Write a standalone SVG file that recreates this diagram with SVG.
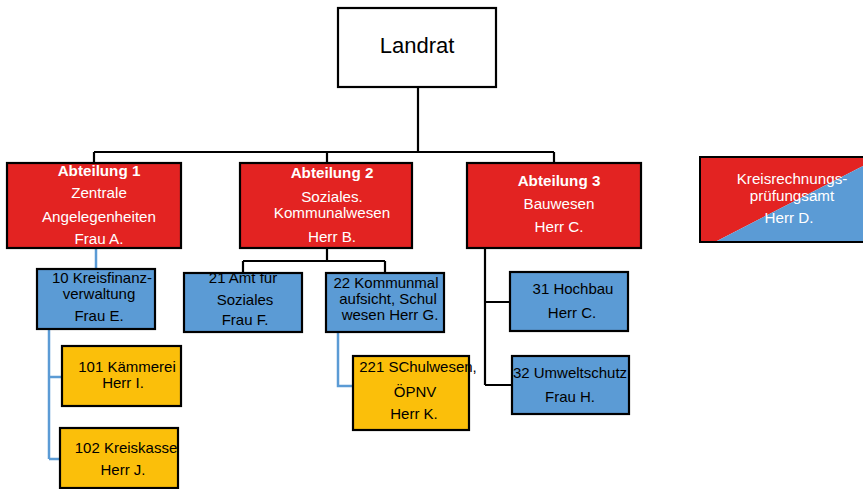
<svg xmlns="http://www.w3.org/2000/svg" width="863" height="489" viewBox="0 0 863 489">
<style>
text{font-family:"Liberation Sans",Arial,sans-serif;text-anchor:middle}
.box{stroke:#000;stroke-width:2.2}
.red{fill:#E32322}
.blue{fill:#5B9BD5}
.yel{fill:#FBBF0A}
.w{fill:#fff;font-size:15.2px}
.b{fill:#000;font-size:15px}
.bold{font-weight:bold}
.ck{fill:none;stroke:#000;stroke-width:2.2}
.cb{fill:none;stroke:#5B9BD5;stroke-width:2.5}
</style>
<g id="connectors">
<path class="ck" d="M418,87V152M94,152H554M94,152V163M327,152V163M554,152V163"/>
<path class="ck" d="M327,248V261M243,261H385M243,261V273M385,261V273"/>
<path class="ck" d="M485,248V385M485,302H510M485,385H512"/>
<path class="cb" d="M96,248V269M49,329V459M49,377H62M49,459H60M338,332V386H353"/>
</g>
<g id="landrat">
<rect x="338" y="8" width="158" height="79" fill="#fff" class="box"/>
<text x="417" y="53" style="font-size:22px">Landrat</text>
</g>
<g id="abt1">
<rect x="7" y="163" width="174" height="85" class="box red"/>
<text x="99" y="176" class="w bold">Abteilung 1</text>
<text x="99" y="198" class="w">Zentrale</text>
<text x="99" y="222" class="w">Angelegenheiten</text>
<text x="99" y="244" class="w">Frau A.</text>
</g>
<g id="abt2">
<rect x="240" y="163" width="172" height="85" class="box red"/>
<text x="332" y="178" class="w bold">Abteilung 2</text>
<text x="332" y="202" class="w">Soziales.</text>
<text x="332" y="218" class="w">Kommunalwesen</text>
<text x="332" y="242" class="w">Herr B.</text>
</g>
<g id="abt3">
<rect x="467" y="163" width="174" height="85" class="box red"/>
<text x="559" y="186" class="w bold">Abteilung 3</text>
<text x="559" y="209" class="w">Bauwesen</text>
<text x="559" y="232" class="w">Herr C.</text>
</g>
<g id="krpa">
<polygon points="700,157 863,157 863,166 715,242 700,242" fill="#E32322"/>
<polygon points="715,242 863,166 863,242" fill="#5B9BD5"/>
<path d="M863,157H700V242H863" fill="none" stroke="#000" stroke-width="2"/>
<text x="792" y="184" class="w">Kreisrechnungs-</text>
<text x="792" y="201" class="w">prüfungsamt</text>
<text x="789" y="223" class="w">Herr D.</text>
</g>
<g id="n10">
<rect x="37" y="269" width="118" height="60" class="box blue"/>
<text x="102" y="283" class="b">10 Kreisfinanz-</text>
<text x="99" y="299" class="b">verwaltung</text>
<text x="99" y="321" class="b">Frau E.</text>
</g>
<g id="n101">
<rect x="62" y="346" width="119" height="60" class="box yel"/>
<text x="127" y="372" class="b">101 Kämmerei</text>
<text x="123" y="388" class="b">Herr I.</text>
</g>
<g id="n102">
<rect x="60" y="428" width="118" height="60" class="box yel"/>
<text x="126" y="453" class="b">102 Kreiskasse</text>
<text x="123" y="475" class="b">Herr J.</text>
</g>
<g id="n21">
<rect x="184" y="273" width="118" height="59" class="box blue"/>
<text x="243" y="283" class="b">21 Amt für</text>
<text x="245" y="305" class="b">Soziales</text>
<text x="245" y="325" class="b">Frau F.</text>
</g>
<g id="n22">
<rect x="326" y="273" width="118" height="59" class="box blue"/>
<text x="386" y="288" class="b">22 Kommunmal</text>
<text x="388" y="304" class="b">aufsicht, Schul</text>
<text x="390" y="320" class="b">wesen Herr G.</text>
</g>
<g id="n221">
<rect x="353" y="356" width="116" height="74" class="box yel"/>
<text x="418" y="372" class="b">221 SChulwesen,</text>
<text x="415" y="397" class="b">ÖPNV</text>
<text x="414" y="419" class="b">Herr K.</text>
</g>
<g id="n31">
<rect x="510" y="272" width="118" height="59" class="box blue"/>
<text x="573" y="294" class="b">31 Hochbau</text>
<text x="572" y="318" class="b">Herr C.</text>
</g>
<g id="n32">
<rect x="512" y="356" width="117" height="58" class="box blue"/>
<text x="570" y="378" class="b">32 Umweltschutz</text>
<text x="570" y="402" class="b">Frau H.</text>
</g>
</svg>
